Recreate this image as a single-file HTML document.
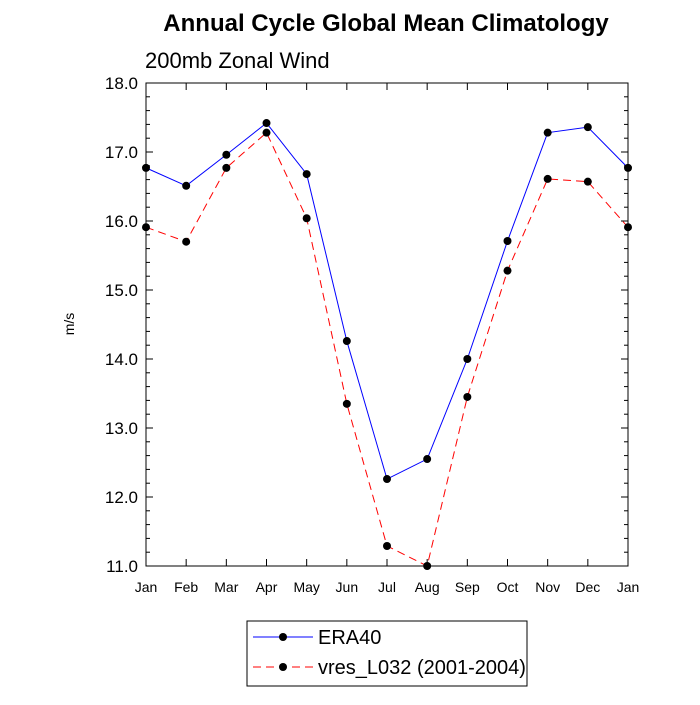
<!DOCTYPE html>
<html><head><meta charset="utf-8"><style>
body{margin:0;background:#fff;}
svg{font-family:"Liberation Sans",sans-serif;}
</style></head><body>
<svg id="chart" width="700" height="700">
<text x="386" y="31" text-anchor="middle" font-size="24" font-weight="bold">Annual Cycle Global Mean Climatology</text>
<text x="145" y="68" font-size="22">200mb Zonal Wind</text>
<text x="0" y="0" font-size="14" transform="translate(74,324) rotate(-90)" text-anchor="middle">m/s</text>
<g id="axes"></g>
<g id="series"></g>
<g>
<rect x="247" y="621" width="280" height="65" fill="#fff" stroke="#000" stroke-width="1"/>
<line x1="253" y1="637" x2="313" y2="637" stroke="#00f" stroke-width="1"/>
<circle cx="283" cy="637" r="4" fill="#000"/>
<text x="318" y="644" font-size="20">ERA40</text>
<line x1="253" y1="667" x2="313" y2="667" stroke="#f00" stroke-width="1" stroke-dasharray="8,5"/>
<circle cx="283" cy="667" r="4" fill="#000"/>
<text x="318" y="674" font-size="20">vres_L032 (2001-2004)</text>
</g>
</svg>
<script>
const months=["Jan","Feb","Mar","Apr","May","Jun","Jul","Aug","Sep","Oct","Nov","Dec","Jan"];
const era40=[16.77,16.51,16.96,17.42,16.68,14.26,12.26,12.55,14.0,15.71,17.28,17.36,16.77];
const vres=[15.91,15.70,16.77,17.28,16.04,13.35,11.29,11.0,13.45,15.28,16.61,16.57,15.91];
const yTicks=[11,12,13,14,15,16,17,18];
const L=146,R=628,T=83,B=566,ymin=11,ymax=18;
const NS="http://www.w3.org/2000/svg";
const xs=i=>L+(R-L)*i/(months.length-1);
const ys=v=>B-(v-ymin)/(ymax-ymin)*(B-T);
function mk(tag,at,parent){const e=document.createElementNS(NS,tag);for(const k in at)e.setAttribute(k,at[k]);parent.appendChild(e);return e;}
const ax=document.getElementById('axes');
const frame=mk('rect',{x:L,y:T,width:R-L,height:B-T,fill:'none',stroke:'#000','stroke-width':1},ax);


months.forEach((m,i)=>{
 const x=xs(i);
 mk('line',{x1:x,y1:B,x2:x,y2:B-7,stroke:'#000'},ax);
 mk('line',{x1:x,y1:T,x2:x,y2:T+7,stroke:'#000'},ax);
 const t=mk('text',{x:x,y:B+26,'text-anchor':'middle','font-size':14},ax);
 t.textContent=m;
 
 
});
for(let v=ymin;v<=ymax+1e-9;v+=0.2){
 const y=ys(v);const major=Math.abs(v-Math.round(v))<1e-6;const len=major?7:4;
 mk('line',{x1:L,y1:y,x2:L+len,y2:y,stroke:'#000'},ax);
 mk('line',{x1:R,y1:y,x2:R-len,y2:y,stroke:'#000'},ax);
}
yTicks.forEach(v=>{
 const t=mk('text',{x:L-8,y:ys(v)+6,'text-anchor':'end','font-size':17},ax);
 t.textContent=v.toFixed(1);
 
 
});
const sg=document.getElementById('series');
function draw(vals,color,dash,name){
 const p=mk('polyline',{points:vals.map((v,i)=>xs(i)+','+ys(v)).join(' '),fill:'none',stroke:color,'stroke-width':1,'stroke-dasharray':dash},sg);
 
 
 vals.forEach((v,i)=>{
  const c=mk('circle',{cx:xs(i),cy:ys(v),r:4,fill:'#000'},sg);
  
  
 });
}
draw(era40,'#00f','none','era40');
draw(vres,'#f00','8,5','vres');
</script>
</body></html>
